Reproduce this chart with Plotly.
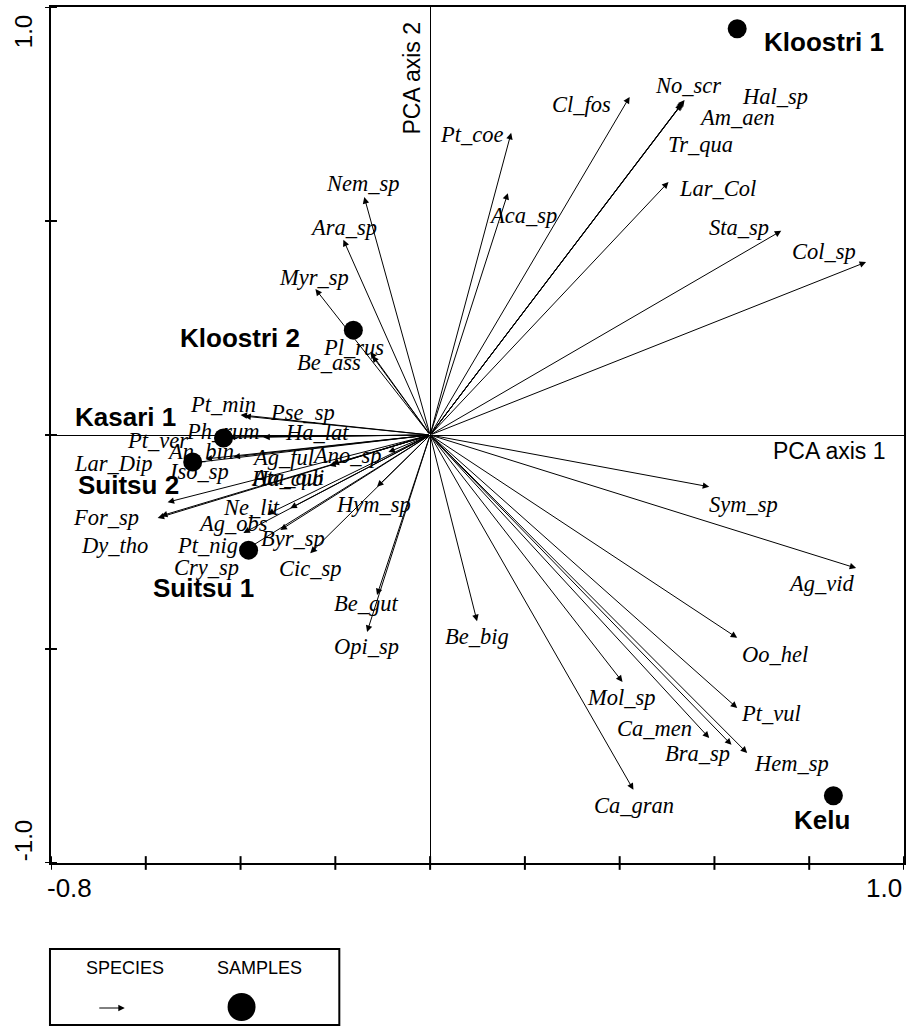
import plotly.graph_objects as go

# ---- PCA species scores (arrow tips) ----
species = [
    "Sym_sp", "Ag_vid", "Oo_hel", "Pt_vul", "Hem_sp", "Bra_sp", "Ca_men", "Mol_sp",
    "Ca_gran", "Be_big", "Col_sp", "Sta_sp", "Lar_Col", "No_scr", "Hal_sp", "Am_aen",
    "Tr_qua", "Cl_fos", "Pt_coe", "Aca_sp", "Nem_sp", "Ara_sp", "Myr_sp", "Pl_rus",
    "Be_ass", "Pt_min", "Pse_sp", "Ha_lat", "Ph_rum", "Pt_ver", "An_bin", "Ag_ful",
    "Ano_sp", "Ha_cub", "Ata_qui", "Lar_Dip", "Iso_sp", "For_sp", "Dy_tho", "Ne_lit",
    "Ag_obs", "Pt_nig", "Cry_sp", "Byr_sp", "Cic_sp", "Hym_sp", "Be_gut", "Opi_sp",
]
species_axis1 = [
    0.589, 0.899, 0.648, 0.648, 0.669, 0.636, 0.589, 0.406,
    0.429, 0.099, 0.920, 0.741, 0.503, 0.535, 0.537, 0.533,
    0.531, 0.421, 0.171, 0.164, -0.139, -0.183, -0.242, -0.126,
    -0.122, -0.400, -0.392, -0.352, -0.425, -0.455, -0.474, -0.415,
    -0.088, -0.206, -0.213, -0.554, -0.501, -0.575, -0.568, -0.295,
    -0.343, -0.394, -0.383, -0.316, -0.253, -0.112, -0.112, -0.133,
]
species_axis2 = [
    -0.121, -0.311, -0.474, -0.638, -0.743, -0.724, -0.708, -0.577,
    -0.829, -0.435, 0.404, 0.477, 0.591, 0.780, 0.783, 0.776,
    0.773, 0.790, 0.706, 0.565, 0.556, 0.456, 0.341, 0.194,
    0.185, 0.047, 0.044, -0.005, -0.005, -0.005, -0.056, -0.051,
    -0.040, -0.068, -0.072, -0.157, -0.065, -0.194, -0.189, -0.171,
    -0.185, -0.229, -0.264, -0.222, -0.276, -0.121, -0.374, -0.460,
]

# ---- PCA sample scores ----
samples = ["Kloostri 1", "Kloostri 2", "Kasari 1", "Suitsu 2", "Suitsu 1", "Kelu"]
samples_axis1 = [0.648, -0.162, -0.436, -0.501, -0.383, 0.851]
samples_axis2 = [0.949, 0.245, -0.007, -0.063, -0.269, -0.843]

# ---- tick labels ----
x_tick_values = [-0.8, -0.6, -0.4, -0.2, 0.0, 0.2, 0.4, 0.6, 0.8, 1.0]
y_tick_values = [-1.0, -0.5, 0.0, 0.5, 1.0]

# label placement relative to the arrow tip / sample point (pixels; dx right, dy down)
species_dx = [
    34, -35, 38, 34, 44, -34, -55, -1,
    1, 0, -42, -42, 49, 4, 90, 54,
    19, -48, -40, 15, -1, 0, -1, -17,
    -43, -18, 58, 54, -6, -57, -5, 50,
    -41, -45, -42, -54, 6, -52, -46, -39,
    -35, -36, -42, 13, 0, -4, -11, -1,
]
species_dy = [
    18, 15, 17, 5, 10, 9, -10, 16,
    16, 15, -11, -3, 6, -16, -3, 15,
    40, 8, 2, 22, -14, -12, -12, -4,
    7, -10, -4, -5, -6, 3, -7, 1,
    3, 14, 12, -39, 9, -1, 30, -1,
    9, 12, 20, 8, 15, 18, 8, 15,
]
samples_dx = [87, -113, -98, -64, -45, -11]
samples_dy = [13, 8, -21, 23, 38, 24]

SERIF = "Liberation Serif, Times New Roman, serif"
SANS = "Liberation Sans, Arial, Helvetica, sans-serif"

fig = go.Figure()

fig.add_trace(go.Scatter(
    x=samples_axis1, y=samples_axis2, mode="markers",
    marker=dict(size=19, color="black"),
    hovertext=samples, hoverinfo="text", showlegend=False,
))

annotations = []

# species arrows from the origin
for name, sx, sy in zip(species, species_axis1, species_axis2):
    annotations.append(dict(
        x=sx, y=sy, ax=0, ay=0, xref="x", yref="y", axref="x", ayref="y",
        text="", showarrow=True, arrowhead=2, arrowsize=1.3, arrowwidth=1,
        arrowcolor="black", standoff=0, startstandoff=0,
    ))

# species labels
for name, sx, sy, dx, dy in zip(species, species_axis1, species_axis2, species_dx, species_dy):
    annotations.append(dict(
        x=sx, y=sy, xref="x", yref="y", text=name, showarrow=False,
        xshift=dx, yshift=-dy, xanchor="center", yanchor="middle",
        font=dict(family=SERIF, size=22.5, color="black", style="italic"),
    ))

# sample labels
for name, sx, sy, dx, dy in zip(samples, samples_axis1, samples_axis2, samples_dx, samples_dy):
    annotations.append(dict(
        x=sx, y=sy, xref="x", yref="y", text="<b>" + name + "</b>", showarrow=False,
        xshift=dx, yshift=-dy, xanchor="center", yanchor="middle",
        font=dict(family=SANS, size=26, color="black"),
    ))

# axis titles
annotations.append(dict(
    x=0.981, y=0.4813, xref="paper", yref="paper", text="PCA axis 1", showarrow=False,
    xanchor="right", yanchor="middle", font=dict(family=SANS, size=23, color="black"),
))
annotations.append(dict(
    x=0.4234, y=0.985, xref="paper", yref="paper", text="PCA axis 2", showarrow=False,
    xanchor="center", yanchor="top", textangle=-90,
    font=dict(family=SANS, size=23, color="black"),
))

# end-of-axis tick labels
annotations.append(dict(
    x=x_tick_values[0], y=-0.029, xref="x", yref="paper", text="-0.8", showarrow=False,
    xanchor="left", yanchor="middle", xshift=-6,
    font=dict(family=SANS, size=26, color="black"),
))
annotations.append(dict(
    x=x_tick_values[-1], y=-0.029, xref="x", yref="paper", text="1.0", showarrow=False,
    xanchor="right", yanchor="middle", font=dict(family=SANS, size=26, color="black"),
))
annotations.append(dict(
    x=-0.032, y=y_tick_values[-1], xref="paper", yref="y", text="1.0", showarrow=False,
    xanchor="center", yanchor="top", textangle=-90, yshift=-6,
    font=dict(family=SANS, size=24, color="black"),
))
annotations.append(dict(
    x=-0.032, y=y_tick_values[0], xref="paper", yref="y", text="-1.0", showarrow=False,
    xanchor="center", yanchor="bottom", textangle=-90,
    font=dict(family=SANS, size=24, color="black"),
))

# legend box content
annotations.append(dict(
    x=0.0865, y=-0.1227, xref="paper", yref="paper", text="SPECIES", showarrow=False,
    xanchor="center", yanchor="middle", font=dict(family=SANS, size=18, color="black"),
))
annotations.append(dict(
    x=0.2444, y=-0.1227, xref="paper", yref="paper", text="SAMPLES", showarrow=False,
    xanchor="center", yanchor="middle", font=dict(family=SANS, size=18, color="black"),
))
annotations.append(dict(
    x=0.0865, y=-0.1694, xref="paper", yref="paper", ax=-27, ay=0,
    text="", showarrow=True, arrowhead=2, arrowsize=1.3, arrowwidth=1,
    arrowcolor="black", standoff=0,
))

shapes = []
# ticks crossing the frame
for t in x_tick_values:
    shapes.append(dict(type="line", xref="x", yref="paper", x0=t, x1=t,
                       y0=-0.008, y1=0.008, line=dict(color="black", width=2)))
for t in y_tick_values:
    shapes.append(dict(type="line", xref="paper", yref="y", x0=-0.007, x1=0.007,
                       y0=t, y1=t, line=dict(color="black", width=2)))
# legend frame and sample symbol
shapes.append(dict(type="rect", xref="paper", yref="paper", x0=-0.0012, x1=0.338,
                   y0=-0.1893, y1=-0.1005, line=dict(color="black", width=2),
                   fillcolor="rgba(0,0,0,0)"))
shapes.append(dict(type="circle", xref="paper", yref="paper", x0=0.2070, x1=0.2398,
                   y0=-0.1846, y1=-0.1518, line=dict(color="black", width=0),
                   fillcolor="black"))

fig.update_layout(
    width=911, height=1027,
    margin=dict(l=51, r=5, t=7, b=164),
    paper_bgcolor="white", plot_bgcolor="white",
    showlegend=False,
    annotations=annotations, shapes=shapes,
    xaxis=dict(range=[-0.8, 1.0], showgrid=False, zeroline=True, zerolinecolor="black",
               zerolinewidth=1, showticklabels=False, ticks="", showline=True,
               linecolor="black", linewidth=2, mirror=True),
    yaxis=dict(range=[-1.0, 1.0], showgrid=False, zeroline=True, zerolinecolor="black",
               zerolinewidth=1, showticklabels=False, ticks="", showline=True,
               linecolor="black", linewidth=2, mirror=True),
)

fig.write_html("out.html")
